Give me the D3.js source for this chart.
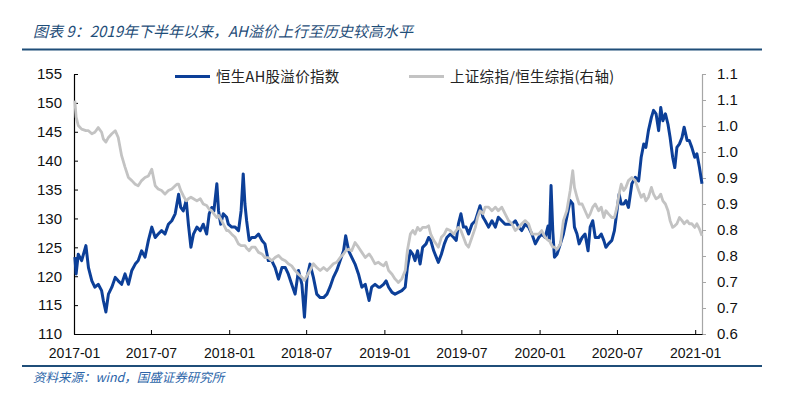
<!DOCTYPE html>
<html>
<head>
<meta charset="utf-8">
<script src="https://cdn.jsdelivr.net/npm/d3@7/dist/d3.min.js"></script>
<style>
  html, body { margin: 0; padding: 0; background: #fff; }
  svg { display: block; }
</style>
</head>
<body>
<div id="chart"></div>
<script>
// dates (roughly weekly samples, extra points on spikes)
const dates = [
  '2017-01-03','2017-01-06','2017-01-11','2017-01-19','2017-01-29','2017-02-04','2017-02-12','2017-02-19','2017-02-27','2017-03-07',
  '2017-03-11','2017-03-17','2017-03-23','2017-03-31','2017-04-08','2017-04-15','2017-04-23','2017-05-01','2017-05-09','2017-05-17',
  '2017-05-25','2017-06-01','2017-06-09','2017-06-17','2017-06-25','2017-07-03','2017-07-11','2017-07-18','2017-07-26','2017-08-03',
  '2017-08-11','2017-08-19','2017-08-27','2017-08-31','2017-09-04','2017-09-09','2017-09-15','2017-09-22','2017-09-27','2017-10-03',
  '2017-10-09','2017-10-17','2017-10-25','2017-11-01','2017-11-09','2017-11-15','2017-11-21','2017-11-26','2017-12-03','2017-12-07',
  '2017-12-12','2017-12-18','2017-12-26',
  '2017-12-30','2018-01-07','2018-01-15','2018-01-23','2018-01-29','2018-02-03','2018-02-07','2018-02-11','2018-02-17','2018-02-23',
  '2018-03-03','2018-03-11','2018-03-19','2018-03-26','2018-04-03','2018-04-11','2018-04-19','2018-04-27','2018-05-05','2018-05-13',
  '2018-05-20','2018-05-28','2018-06-05','2018-06-13','2018-06-21','2018-06-27','2018-07-03','2018-07-10','2018-07-18','2018-07-26',
  '2018-08-03','2018-08-11','2018-08-19','2018-08-26','2018-09-03','2018-09-11','2018-09-19','2018-09-27','2018-10-02','2018-10-09',
  '2018-10-16','2018-10-24','2018-11-01','2018-11-09','2018-11-17','2018-11-26','2018-12-02','2018-12-10','2018-12-18',
  '2018-12-22','2018-12-30','2019-01-05','2019-01-11','2019-01-19','2019-01-26','2019-02-03','2019-02-11','2019-02-19','2019-02-24',
  '2019-03-03','2019-03-09','2019-03-14','2019-03-20','2019-03-26','2019-04-01','2019-04-09','2019-04-15','2019-04-20','2019-04-27',
  '2019-05-03','2019-05-08','2019-05-15','2019-05-22','2019-05-28','2019-06-05','2019-06-13','2019-06-19','2019-06-24','2019-06-30',
  '2019-07-06','2019-07-12','2019-07-18','2019-07-26','2019-08-03','2019-08-08','2019-08-14','2019-08-21','2019-08-26','2019-09-03',
  '2019-09-11','2019-09-19','2019-09-26','2019-10-04','2019-10-12','2019-10-20','2019-10-28','2019-11-05','2019-11-13','2019-11-20',
  '2019-11-28','2019-12-06','2019-12-14','2019-12-22',
  '2019-12-30','2020-01-06','2020-01-14','2020-01-21','2020-01-24','2020-01-28','2020-02-01','2020-02-05','2020-02-11','2020-02-19',
  '2020-02-26','2020-03-05','2020-03-13','2020-03-19','2020-03-23','2020-03-29','2020-04-03','2020-04-10','2020-04-17','2020-04-24',
  '2020-04-29','2020-05-05','2020-05-11','2020-05-19','2020-05-25','2020-05-31','2020-06-05','2020-06-11','2020-06-19','2020-06-25',
  '2020-07-01','2020-07-06','2020-07-11','2020-07-17','2020-07-22','2020-07-28','2020-08-05','2020-08-13','2020-08-21','2020-08-27',
  '2020-09-02','2020-09-07','2020-09-13','2020-09-20','2020-09-25','2020-10-01','2020-10-07','2020-10-12','2020-10-17','2020-10-23',
  '2020-10-29','2020-11-03','2020-11-09','2020-11-14','2020-11-19','2020-11-25','2020-12-01','2020-12-06','2020-12-13','2020-12-18',
  '2020-12-24','2020-12-31','2021-01-05','2021-01-11','2021-01-17'
];

// 恒生AH股溢价指数 (left axis)
const ahPremium = [
  123.3,120.4,123.8,122.7,125.3,121.5,119.2,118.1,118.6,117.5,
  115.8,113.8,116.9,118.1,119.8,119.2,118.6,120.4,118.6,121,
  122.1,122.7,124.4,123.3,126.2,128.5,126.7,127.3,127.9,127.3,
  129,129.6,130.8,132.5,134.2,131.9,131.3,133.1,129,125,
  127.3,128.5,127.9,129,127.3,130.8,131.9,131.3,136,131.3,
  129,130.8,130.2,
  129,128.5,128.5,127.9,131.3,137.7,132.5,129.6,126.2,126.7,
  126.7,127.3,126.2,125.6,122.7,122.7,121.5,119.5,121.5,121.5,
  120.4,118.6,116.9,121,118.6,112.9,119.8,122.1,119.8,116.9,
  116.3,116.3,116.9,118.1,119.8,121,122.7,124.4,127,124.4,
  123.3,122.1,120.4,118.1,118.6,115.8,118.1,118.6,118.1,
  118.1,118.6,119.2,118.1,117.2,116.9,117.2,117.5,118.1,121.5,
  124.4,123.8,122.7,124.4,122.1,125,125.6,126.7,126.2,124.4,
  123.3,122.4,123.8,125.6,126.7,127.3,126.7,126.2,129,130.8,
  128.5,128.5,127.3,129,129.6,130.8,132.2,130.2,129.6,128.5,
  129.6,128.5,130.2,129.6,129,129,129,129.6,128.5,127.9,
  129,128.5,127.3,125.6,
  126.7,127.3,126.7,128.7,126.2,135.7,127.9,123.3,123.8,125.6,
  127.3,130.2,133.1,132.5,128.5,127.3,125.6,126.7,127.3,124.4,
  128.5,129.6,126.7,126.7,127.3,126.2,125,125.6,126.2,127.9,
  131.3,134.2,132.5,132.5,133.1,131.9,136,137.1,136.5,140.6,
  142.9,142.3,145.2,147.5,148.7,148.1,145.2,149.2,146.9,148.1,
  146.3,144,140.6,138.8,142.3,142.9,144,145.8,143.5,143.5,
  142.3,140.6,141.2,138.8,136
];

// 上证综指/恒生综指 (right axis)
const shHsRatio = [
  1.049,1.017,1.001,0.994,0.991,0.991,0.985,0.988,0.997,0.988,
  0.975,0.969,0.978,0.985,0.991,0.978,0.943,0.921,0.901,0.895,
  0.888,0.885,0.895,0.901,0.904,0.917,0.885,0.879,0.876,0.869,
  0.876,0.879,0.885,0.888,0.888,0.876,0.866,0.856,0.860,0.863,
  0.860,0.856,0.860,0.850,0.847,0.840,0.837,0.831,0.824,0.828,
  0.821,0.812,0.799,
  0.799,0.792,0.786,0.773,0.770,0.770,0.770,0.765,0.760,0.767,
  0.767,0.757,0.754,0.747,0.747,0.741,0.747,0.751,0.744,0.741,
  0.735,0.731,0.722,0.715,0.709,0.703,0.712,0.722,0.735,0.728,
  0.722,0.728,0.722,0.728,0.735,0.738,0.747,0.754,0.760,0.763,
  0.760,0.776,0.767,0.757,0.747,0.754,0.747,0.735,0.738,
  0.735,0.731,0.738,0.722,0.715,0.706,0.699,0.706,0.722,0.760,
  0.792,0.799,0.792,0.805,0.799,0.805,0.805,0.808,0.792,0.780,
  0.773,0.767,0.786,0.792,0.802,0.799,0.792,0.799,0.805,0.799,
  0.786,0.773,0.767,0.786,0.805,0.824,0.837,0.831,0.844,0.844,
  0.837,0.844,0.837,0.844,0.831,0.818,0.812,0.799,0.805,0.812,
  0.818,0.812,0.792,0.792,
  0.792,0.799,0.786,0.780,0.780,0.773,0.767,0.767,0.763,0.773,
  0.818,0.837,0.876,0.914,0.882,0.863,0.850,0.850,0.837,0.824,
  0.831,0.844,0.850,0.837,0.844,0.824,0.837,0.831,0.824,0.824,
  0.844,0.869,0.888,0.876,0.882,0.895,0.901,0.895,0.876,0.863,
  0.869,0.856,0.863,0.882,0.869,0.860,0.863,0.869,0.856,0.850,
  0.837,0.818,0.805,0.808,0.812,0.824,0.818,0.812,0.818,0.812,
  0.812,0.805,0.812,0.802,0.789
];

const leftTicks = [110, 115, 120, 125, 130, 135, 140, 145, 150, 155];
const rightTicks = [0.6, 0.65, 0.7, 0.75, 0.8, 0.85, 0.9, 0.95, 1.0, 1.05, 1.1];
const rightTickLabels = ['0.6', '0.7', '0.7', '0.8', '0.8', '0.9', '0.9', '1.0', '1.0', '1.1', '1.1'];
const xTickLabels = ['2017-01', '2017-07', '2018-01', '2018-07', '2019-01', '2019-07', '2020-01', '2020-07', '2021-01'];

const titleText = '图表 9：2019年下半年以来，AH溢价上行至历史较高水平';
const sourceText = '资料来源：wind，国盛证券研究所';
const seriesNames = ['恒生AH股溢价指数', '上证综指/恒生综指(右轴)'];

const W = 786, H = 398;
const plot = { left: 74, right: 702, top: 74, bottom: 334 };
const BLUE = '#0c3f98';
const GRAY = '#c3c3c3';
const NAVY = '#1f4e79';

const parse = d3.timeParse('%Y-%m-%d');
const rows = dates.map((d, i) => ({ date: parse(d), ah: ahPremium[i], ratio: shHsRatio[i] }));

const svg = d3.select('#chart').append('svg')
  .attr('width', W)
  .attr('height', H)
  .style('background', '#fff');

// header / footer
svg.append('text')
  .attr('x', 33).attr('y', 37)
  .attr('fill', NAVY)
  .attr('font-family', '"Noto Sans CJK SC", "Noto Sans", sans-serif')
  .attr('font-size', 15)
  .attr('font-style', 'italic')
  .text(titleText);

svg.append('line')
  .attr('x1', 22).attr('x2', 762).attr('y1', 49.5).attr('y2', 49.5)
  .attr('stroke', NAVY).attr('stroke-width', 2.2);

svg.append('line')
  .attr('x1', 22).attr('x2', 762).attr('y1', 366).attr('y2', 366)
  .attr('stroke', NAVY).attr('stroke-width', 2.2);

svg.append('text')
  .attr('x', 33).attr('y', 382)
  .attr('fill', '#2a64a8')
  .attr('font-family', '"Noto Sans CJK SC", "Noto Sans", sans-serif')
  .attr('font-size', 12.5)
  .attr('font-style', 'italic')
  .text(sourceText);

// scales
const x = d3.scaleTime()
  .domain([parse('2017-01-01'), rows[rows.length - 1].date])
  .range([plot.left, plot.right]);

const yL = d3.scaleLinear().domain([110, 155]).range([plot.bottom, plot.top]);
const yR = d3.scaleLinear().domain([0.6, 1.1]).range([plot.bottom, plot.top]);

const xTicks = d3.timeMonth.every(6).range(parse('2017-01-01'), parse('2021-01-02'));

const tickFont = '"Liberation Sans", Arial, sans-serif';

// left axis
const gL = svg.append('g')
  .attr('transform', `translate(${plot.left},0)`)
  .call(d3.axisLeft(yL).tickValues(leftTicks).tickSizeInner(-4).tickSizeOuter(0).tickPadding(12).tickFormat(d3.format('d')));
gL.select('.domain').attr('stroke', '#000').attr('stroke-width', 1.2);
gL.selectAll('.tick line').attr('stroke', '#000');
gL.selectAll('.tick text').attr('font-family', tickFont).attr('font-size', 15).attr('fill', '#111');

// right axis
const gR = svg.append('g')
  .attr('transform', `translate(${plot.right},0)`)
  .call(d3.axisRight(yR).tickValues(rightTicks).tickSizeInner(4).tickSizeOuter(0).tickPadding(11)
    .tickFormat((d, i) => rightTickLabels[i]));
gR.select('.domain').attr('stroke', '#a6a6a6').attr('stroke-width', 1.2);
gR.selectAll('.tick line').attr('stroke', '#a6a6a6');
gR.selectAll('.tick text').attr('font-family', tickFont).attr('font-size', 15).attr('fill', '#111');

// bottom axis
const gX = svg.append('g')
  .attr('transform', `translate(0,${plot.bottom})`)
  .call(d3.axisBottom(x).tickValues(xTicks).tickSizeInner(-4).tickSizeOuter(0).tickPadding(14)
    .tickFormat((d, i) => xTickLabels[i]));
gX.select('.domain').attr('stroke', '#000').attr('stroke-width', 1.2);
gX.selectAll('.tick line').attr('stroke', '#000');
gX.selectAll('.tick text').attr('font-family', tickFont).attr('font-size', 14).attr('fill', '#111');

// lines
const ahLine = d3.line()
  .x(d => x(d.date))
  .y(d => yL(d.ah));

const ratioLine = d3.line()
  .x(d => x(d.date))
  .y(d => yR(d.ratio));

svg.append('path')
  .datum(rows)
  .attr('fill', 'none')
  .attr('stroke', BLUE)
  .attr('stroke-width', 3)
  .attr('stroke-linejoin', 'round')
  .attr('d', ahLine);

svg.append('path')
  .datum(rows)
  .attr('fill', 'none')
  .attr('stroke', GRAY)
  .attr('stroke-width', 2.8)
  .attr('stroke-linejoin', 'round')
  .attr('d', ratioLine);

// legend
const legend = [
  { name: seriesNames[0], color: BLUE, x: 175 },
  { name: seriesNames[1], color: GRAY, x: 409 }
];
const lg = svg.append('g').selectAll('g').data(legend).join('g')
  .attr('transform', d => `translate(${d.x},76.5)`);
lg.append('line')
  .attr('x1', 0).attr('x2', 35)
  .attr('stroke', d => d.color).attr('stroke-width', 3);
lg.append('text')
  .attr('x', 41).attr('y', 5)
  .attr('font-family', '"Noto Sans CJK SC", "Noto Sans", sans-serif')
  .attr('font-size', 14.5)
  .attr('letter-spacing', 0.3)
  .attr('fill', '#222')
  .text(d => d.name);
</script>
</body>
</html>
